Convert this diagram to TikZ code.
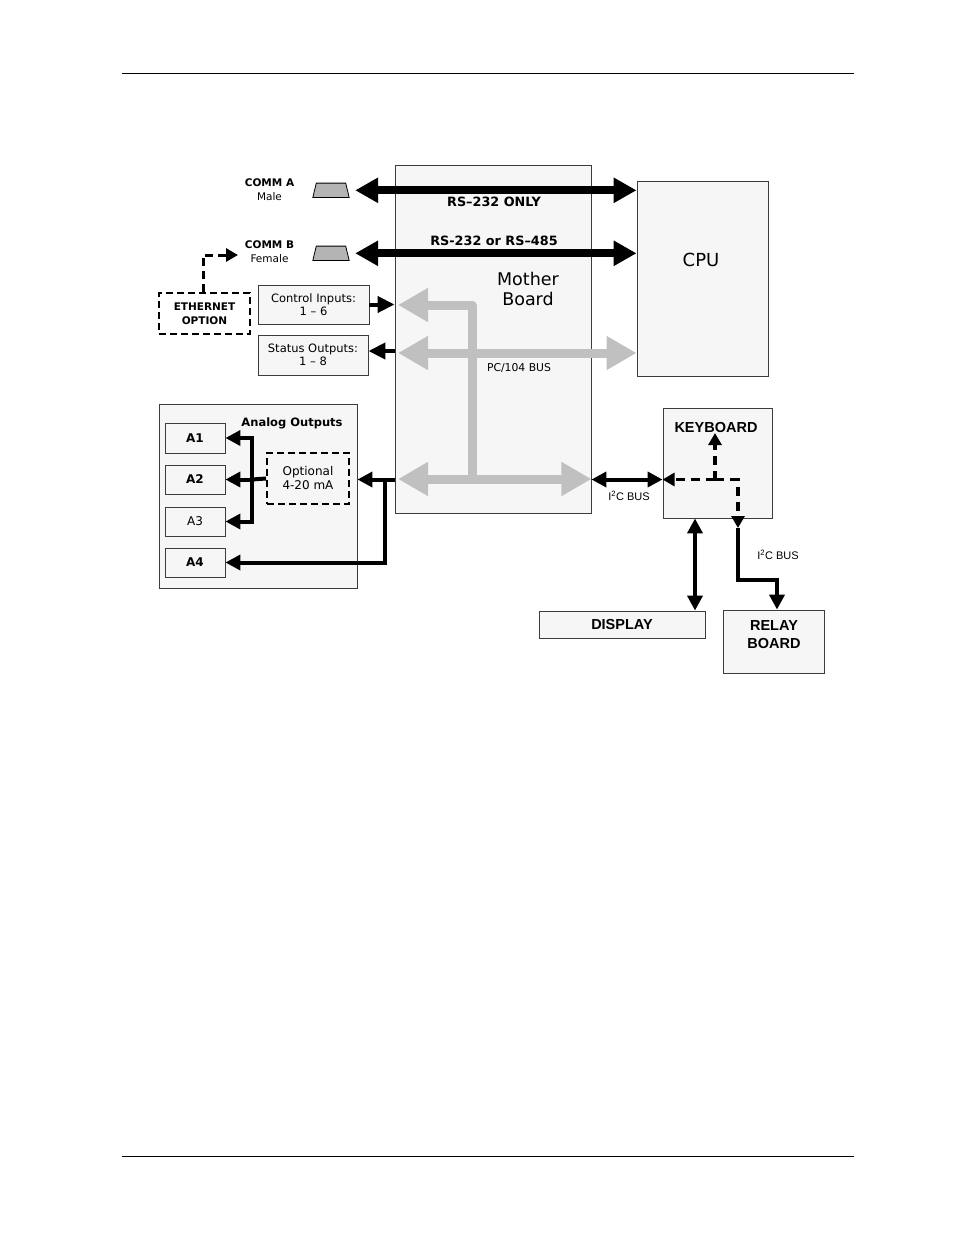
\documentclass[tikz,border=0pt]{standalone}
\usepackage{fontspec}
\setmainfont{DejaVu Sans}
\newfontfamily\arialfont{Liberation Sans}
\usetikzlibrary{arrows.meta}
\definecolor{boxfill}{RGB}{246,246,246}
\definecolor{boxline}{RGB}{60,60,60}
\definecolor{busgray}{RGB}{192,192,192}
\definecolor{conngray}{RGB}{180,180,180}
\tikzset{
  box/.style={draw=boxline, fill=boxfill, line width=0.9pt, inner sep=0pt},
  dbox/.style={draw=black, line width=2pt, dash pattern=on 7pt off 4pt, inner sep=0pt},
  connbox/.style={minimum width=36pt, minimum height=14pt, inner sep=0pt},
  bigarr/.style={line width=8pt, {Triangle[length=23pt,width=24pt]}-{Triangle[length=23pt,width=24pt]}},
  gbus/.style={line width=9pt, draw=busgray, line join=round},
  gtip/.tip={Triangle[length=30pt,width=32pt]},
  ablk/.style={line width=4pt, line join=miter},
  atip/.tip={Triangle[length=15pt,width=15pt]},
  ctip/.tip={Triangle[length=17pt,width=16pt]},
  dashk/.style={line width=3.5pt, dash pattern=on 9pt off 6pt},
  stip/.tip={Triangle[length=12pt,width=13pt]},
  fb/.style={font=\fontsize{10.5}{14}\selectfont},
  fs/.style={font=\fontsize{11.5}{13}\selectfont},
  ar/.style={font=\arialfont\bfseries\fontsize{14.5}{18}\selectfont},
}
\newcommand{\drawconn}[1]{%
  \draw[line width=0.8pt, fill=conngray] (#1.south west) -- (#1.south east) -- ([xshift=-3.5pt]#1.north east) -- ([xshift=3.5pt]#1.north west) -- cycle;
  \draw[line width=1.8pt] (#1.south west) -- (#1.south east);}
\begin{document}
\begin{tikzpicture}[x=1pt,y=-1pt]
\useasboundingbox (0,0) rectangle (954,1235);
% page rules
\draw[line width=1pt] (122,73) -- (854,73);
\draw[line width=1pt] (122,1156) -- (854,1156);

% main boxes
\node[box, minimum width=196pt, minimum height=348pt] (mb) at (493,339) {};
\node[font=\fontsize{17.5}{20}\selectfont, align=center] (mbtxt) at (528,289) {Mother\\Board};
\node[box, minimum width=131pt, minimum height=195pt] (cpu) at (702.5,278.5) {};
\node[font=\fontsize{18}{20}\selectfont] (cputxt) at (701,260) {CPU};

% comm ports
\node[fb, align=center] (commA) at (269.5,190) {\textbf{COMM A}\\Male};
\node[fb, align=center] (commB) at (269.5,252) {\textbf{COMM B}\\Female};
\node[connbox] (conA) at (331,190.3) {};
\node[connbox] (conB) at (331,253.3) {};
\drawconn{conA}
\drawconn{conB}

\draw[bigarr] ([xshift=6pt]conA.east) -- (cpu.west |- conA.east);
\draw[bigarr] ([xshift=6pt]conB.east) -- (cpu.west |- conB.east);
\node[font=\bfseries\fontsize{12.8}{14}\selectfont] (rs1) at (494,202) {RS–232 ONLY};
\node[font=\bfseries\fontsize{12.8}{14}\selectfont] (rs2) at (494,241) {RS-232 or RS–485};

% ethernet
\node[dbox, minimum width=91pt, minimum height=41pt, fb, align=center] (eth) at (204.5,313.5) {\textbf{ETHERNET}\\\textbf{OPTION}};
\coordinate (ethtip) at (238,255);
\draw[line width=3pt, dash pattern=on 8pt off 5pt, -{stip}] (eth.north -| 203,0) -- (203,255) -- (ethtip);

% control / status
\node[box, minimum width=111pt, minimum height=39pt, fs, align=center] (ci) at (313.5,304.5) {Control Inputs:\\1 – 6};
\node[box, minimum width=110pt, minimum height=40pt, fs, align=center] (so) at (313,355) {Status Outputs:\\1 – 8};
\draw[ablk, -{ctip}] (ci.east) -- (mb.west |- ci.east);
\draw[ablk, -{ctip}] (mb.west |- 0,351) -- (so.east |- 0,351);

% gray bus
\draw[gbus, -{gtip}] (472,479) -- (472,305) -- (398,305);
\draw[gbus, {gtip}-{gtip}] (398,353) -- (cpu.west |- 0,353);
\draw[gbus, {gtip}-{gtip}] (398,479) -- (mb.east |- 0,479);
\node[font=\fontsize{10.8}{12}\selectfont] (pcbus) at (519,368) {PC/104 BUS};

% analog outputs
\node[box, minimum width=198pt, minimum height=184pt] (ao) at (258,496) {};
\node[font=\bfseries\fontsize{11.5}{14}\selectfont] (aotxt) at (292,423) {Analog Outputs};
\node[box, minimum width=60pt, minimum height=30pt, font=\bfseries\fontsize{12}{14}\selectfont] (a1) at (195,438) {A1};
\node[box, minimum width=60pt, minimum height=29pt, font=\bfseries\fontsize{12}{14}\selectfont] (a2) at (195,479.5) {A2};
\node[box, minimum width=60pt, minimum height=29pt, font=\fontsize{12}{14}\selectfont] (a3) at (195,521.5) {A3};
\node[box, minimum width=60pt, minimum height=29pt, font=\bfseries\fontsize{12}{14}\selectfont] (a4) at (195,562.5) {A4};
\node[dbox, minimum width=82pt, minimum height=51pt, font=\fontsize{12}{14}\selectfont, align=center] (opt) at (308,478.5) {Optional\\4-20 mA};
\coordinate (jA) at (252,479.5);
\coordinate (jB) at (385,479.5);
\draw[ablk, {atip}-{atip}] (a1.east) -- (a1.east -| jA) -- (a3.east -| jA) -- (a3.east);
\draw[ablk, -{atip}] (jA) -- (a2.east);
\draw[ablk] (opt.west) -- (jA);
\draw[ablk, -{atip}] (mb.west |- jB) -- (ao.east |- jB);
\draw[ablk, -{atip}] (jB) -- (jB |- a4.east) -- (a4.east);

% keyboard, display, relay
\node[box, minimum width=109pt, minimum height=110pt] (kb) at (717.5,463) {};
\node[ar] (kbtxt) at (716,428) {KEYBOARD};
\node[box, minimum width=166pt, minimum height=27pt, ar] (disp) at (622,624.5) {DISPLAY};
\node[box, minimum width=101pt, minimum height=63pt] (relay) at (773.5,641.5) {};
\node[ar, align=center] (relaytxt) at (774,635) {RELAY\\BOARD};

\draw[ablk, {atip}-{atip}] (mb.east |- 0,479.5) -- (kb.west |- 0,479.5);
\node[font=\arialfont\fontsize{11}{12}\selectfont] (i2c1) at (629,496) {I\textsuperscript{2}C BUS};

\coordinate (kj) at (715,479.5);
\coordinate (kd) at (738,479.5);
\coordinate (kdt) at (738,528);
\draw[dashk, -{stip}] (kj) -- (kb.west |- kj);
\draw[dashk, -{stip}] (kj) -- (715,433);
\draw[dashk, -{stip}] (kj) -- (kd) -- (kdt);
\draw[ablk, -{atip}] (kdt) -- (738,580) -- (777,580) -- (relay.north -| 777,0);
\node[font=\arialfont\fontsize{11}{12}\selectfont] (i2c2) at (778,555) {I\textsuperscript{2}C BUS};
\draw[ablk, {atip}-{atip}] (kb.south -| 695,0) -- (disp.north -| 695,0);
\end{tikzpicture}
\end{document}
